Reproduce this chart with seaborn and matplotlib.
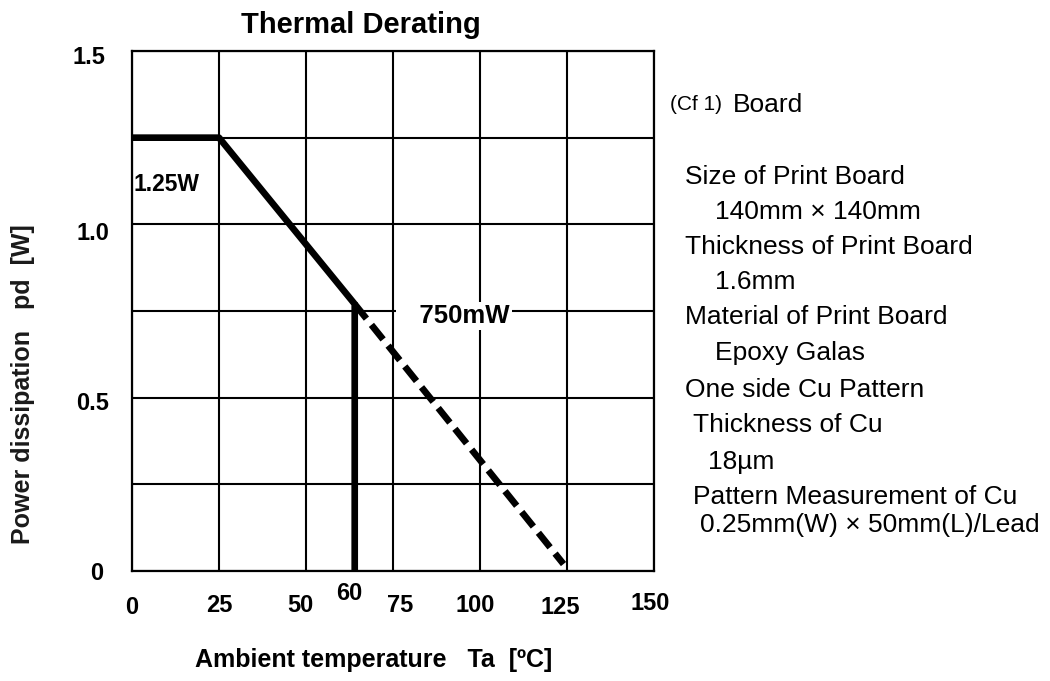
import matplotlib
matplotlib.use("Agg")
import matplotlib.pyplot as plt
import pandas as pd
import seaborn as sns

# derating curve: ambient temperature [degC] vs power dissipation [W]
rated_ta = [0, 25, 64, 64]
rated_pd = [1.25, 1.25, 0.77, 0.0]
# extrapolated part (dashed)
ext_ta = [64, 124]
ext_pd = [0.77, 0.02]

grid_x = [0, 25, 50, 75, 100, 125, 150]
grid_y = [0, 0.25, 0.5, 0.75, 1.0, 1.25, 1.5]

x_ticks = [0, 25, 50, 64, 75, 100, 125, 150]
x_labels = ["0", "25", "50", "60", "75", "100", "125", "150"]
y_ticks = [0, 0.5, 1.0, 1.5]
y_labels = ["0", "0.5", "1.0", "1.5"]

board_notes = [
    "Size of Print Board",
    "140mm \u00d7 140mm",
    "Thickness of Print Board",
    "1.6mm",
    "Material of Print Board",
    "Epoxy Galas",
    "One side Cu Pattern",
    "Thickness of Cu",
    "18\u00b5m",
    "Pattern Measurement of Cu",
    "0.25mm(W) \u00d7 50mm(L)/Lead",
]

sns.set_style("white")
plt.rcParams["font.family"] = ["Liberation Sans", "DejaVu Sans"]
plt.rcParams["text.color"] = "black"

W, H = 1050, 681
fig = plt.figure(figsize=(W / 100, H / 100), dpi=100)
ax = fig.add_axes([132 / W, 1 - 571 / H, 522 / W, 520 / H])

rated = pd.DataFrame({"Ta": rated_ta, "Pd": rated_pd})
ext = pd.DataFrame({"Ta": ext_ta, "Pd": ext_pd})
sns.lineplot(data=rated, x="Ta", y="Pd", sort=False, estimator=None,
             color="black", lw=4.8, ax=ax, zorder=4)
sns.lineplot(data=ext, x="Ta", y="Pd", sort=False, estimator=None,
             color="black", lw=4.8, linestyle=(0, (2.8, 1.2)), ax=ax, zorder=4)

ax.set_xlim(0, 150)
ax.set_ylim(0, 1.5)
ax.set_xticks(grid_x)
ax.set_yticks(grid_y)
ax.set_xticklabels([])
ax.set_yticklabels([])
ax.tick_params(length=0)
ax.grid(True, color="black", lw=1.5)
for s in ax.spines.values():
    s.set_color("black")
    s.set_linewidth(1.6)
ax.set_xlabel("")
ax.set_ylabel("")

# tick labels placed by hand (offsets in pixels, like the original)
x_off = [(0, -37), (0, -34), (-6, -34), (-5, -22), (7, -34), (-5, -34), (-7, -37), (-4, -32)]
for v, lab, (dx, dy) in zip(x_ticks, x_labels, x_off):
    ax.annotate(lab, xy=(v, 0), xycoords=("data", "axes fraction"),
                xytext=(dx, dy), textcoords="offset pixels",
                ha="center", va="center", fontsize=17, fontweight="bold")
y_off = [(-29, -3), (-23, -6), (-23, -9), (-27, -7)]
for v, lab, (dx, dy) in zip(y_ticks, y_labels, y_off):
    ax.annotate(lab, xy=(0, v), xycoords=("axes fraction", "data"),
                xytext=(dx, dy), textcoords="offset pixels",
                ha="right", va="center", fontsize=17, fontweight="bold")

ax.text(0.3, 1.116, "1.25W", ha="left", va="center", fontsize=16.5,
        fontweight="bold", zorder=5)
ax.text(108.5, 0.736, "   750mW", ha="right", va="center", fontsize=18.5,
        fontweight="bold", zorder=5,
        bbox=dict(facecolor="white", edgecolor="none", pad=1.5))

fig.text(361 / W, 1 - 25 / H, "Thermal Derating", ha="center", va="center",
         fontsize=21, fontweight="bold")
fig.text(374 / W, 1 - 660 / H, "Ambient temperature   Ta  [\u00baC]",
         ha="center", va="center", fontsize=18, fontweight="bold")
fig.text(23 / W, 1 - 384 / H, "Power dissipation   pd  [W]", rotation=90,
         ha="center", va="center", fontsize=18, fontweight="bold", color="#1a1a1a")

fig.text(670 / W, 1 - 105 / H, "(Cf 1)", ha="left", va="center", fontsize=15)
fig.text(733 / W, 1 - 105 / H, "Board", ha="left", va="center", fontsize=19)
note_x = [685, 715, 685, 715, 685, 715, 685, 693, 708, 693, 700]
note_y = [177, 212, 247, 282, 317, 353, 390, 425, 462, 497, 525]
for txt, nx, ny in zip(board_notes, note_x, note_y):
    fig.text(nx / W, 1 - ny / H, txt, ha="left", va="center", fontsize=19)

fig.savefig("out.png", dpi=100)
